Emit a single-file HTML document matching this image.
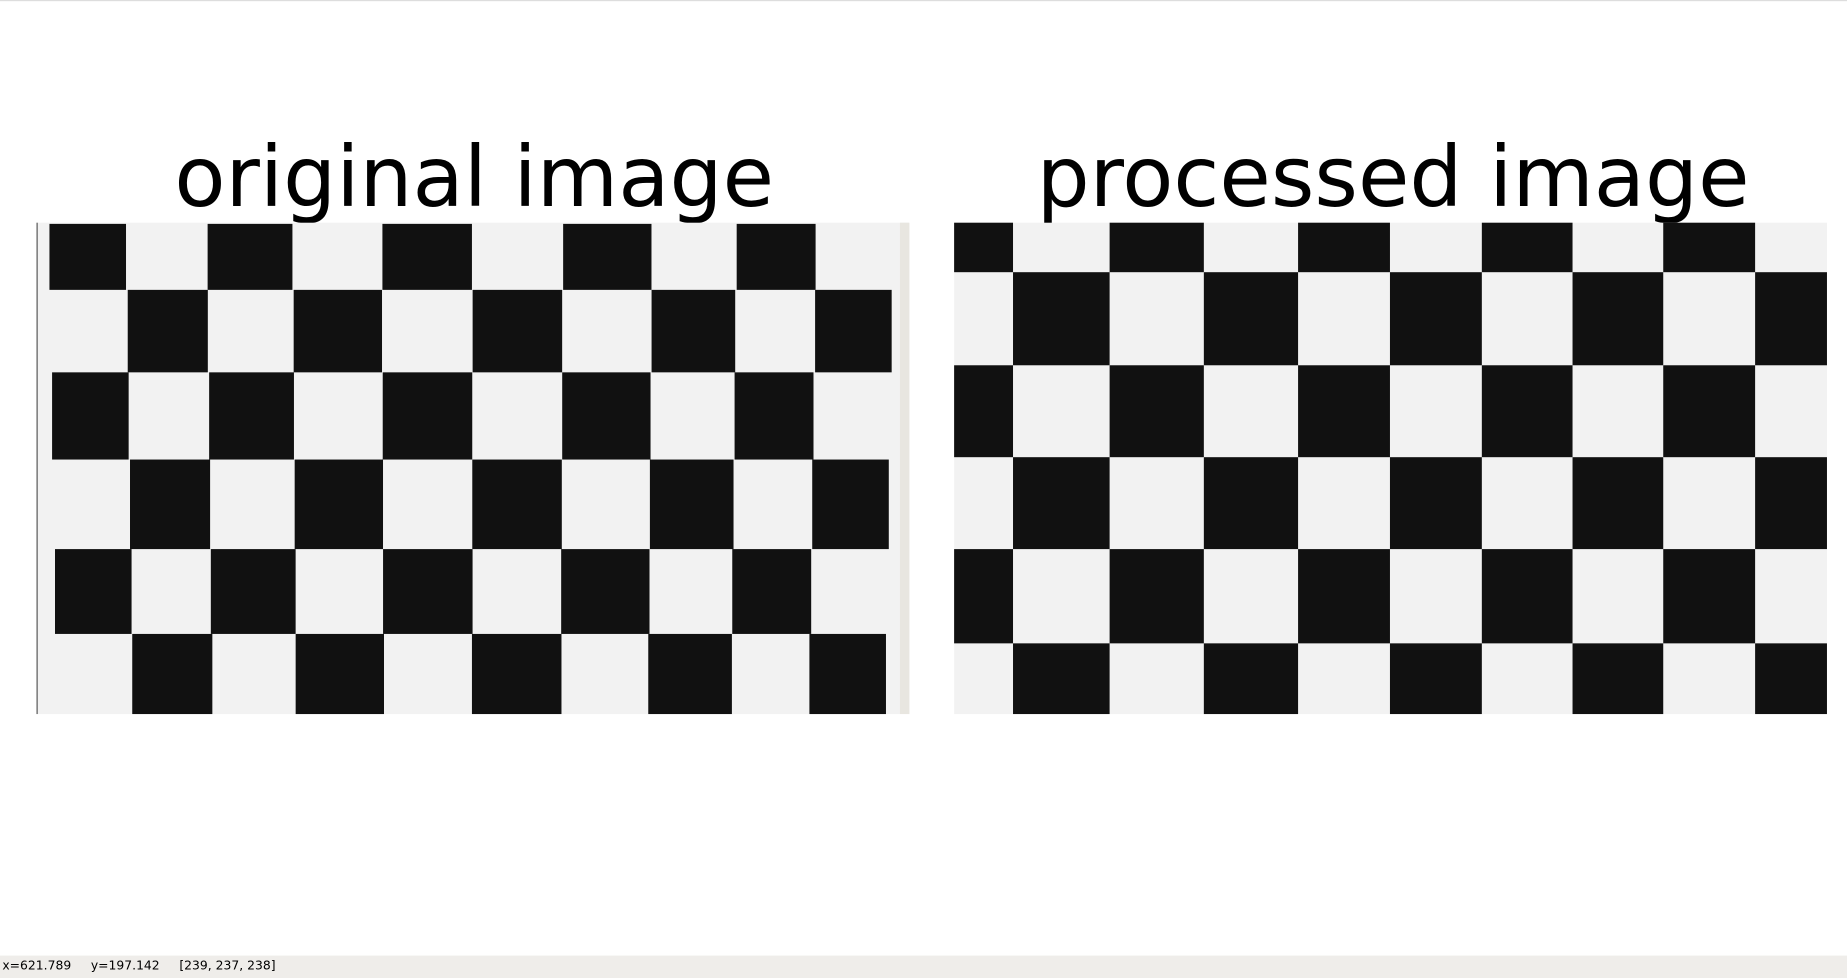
<!DOCTYPE html>
<html><head><meta charset="utf-8"><style>
html,body{margin:0;padding:0;width:1847px;height:978px;overflow:hidden;background:#fff}
#wrap{width:1568px;height:830px;transform:scale(1.17793,1.17831);transform-origin:0 0;position:relative;font-family:"DejaVu Sans","Liberation Sans",sans-serif}
.title{position:absolute;top:109px;font-size:71px;color:#000;white-space:nowrap}
#status{position:absolute;left:0;top:811px;width:1568px;height:19px;background:#efedea;font-size:10.5px;line-height:19px;color:#000;padding-left:2px;white-space:pre}
</style></head><body>
<div id="wrap">
<div style="position:absolute;left:0;top:0;width:1568px;height:1px;background:#ddd"></div>
<div class="title" style="left:148px">original image</div>
<div class="title" style="left:880px">processed image</div>
<svg id="svg" width="1568" height="810" style="position:absolute;left:0;top:0"></svg>
<div id="status">x=621.789     y=197.142     [239, 237, 238]</div>
</div>
<script>
const leftCols=[45,110,178,250,325,401,477,552,623,690,755];
const leftRows=[190,246,316,390,466,538,606];
const rightCols=[810,860,942,1022,1102,1180,1258,1335,1412,1490,1551];
const rightRows=[189,231,310,388,466,546,606];
const NS="http://www.w3.org/2000/svg";
const svg=document.getElementById('svg');
function rect(x,y,w,h,fill,name){
  const r=document.createElementNS(NS,'rect');
  r.setAttribute('x',x);r.setAttribute('y',y);r.setAttribute('width',w);r.setAttribute('height',h);r.setAttribute('fill',fill);
  
  
  svg.appendChild(r);return r;
}
function board(x0,x1,y0,y1,cols,rows,name,bend){
  rect(x0,y0,x1-x0,y1-y0,'#f2f2f2',name+'-background');
  for(let r=0;r<rows.length-1;r++){
    for(let c=0;c<cols.length-1;c++){
      if((r+c)%2!==0)continue;
      const mid=(rows[r]+rows[r+1])/2, cx=(cols[c]+cols[c+1])/2;
      const dx=bend?((cx-400)/370)*((mid-400)/210)*-4:0;
      const cl=Math.max(x0,cols[c]+dx), cr=Math.min(x1,cols[c+1]+dx);
      rect(cl,rows[r],cr-cl,rows[r+1]-rows[r],'#111',name+'-square');
    }
  }
}
board(31,772,189,606,leftCols,leftRows,'original-board',true);
rect(31,189,1,417,'#555','original-left-edge');
rect(764,189,8,417,'#e8e6e0','original-right-paper');
board(810,1551,189,606,rightCols,rightRows,'processed-board',false);
</script>
</body></html>
